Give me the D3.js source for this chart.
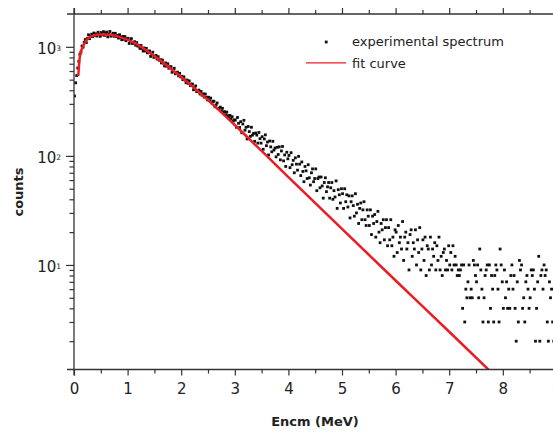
<!DOCTYPE html>
<html lang="en">
<head>
<meta charset="UTF-8">
<title>Encm spectrum</title>
<script src="https://d3js.org/d3.v7.min.js"></script>
<style>
  body { margin: 0; background: #fff; }
  svg text { font-family: "DejaVu Sans", sans-serif; fill: #222; }
</style>
</head>
<body>
<div id="chart"></div>
<script>
// experimental spectrum: counts per bin, bins 0.02 MeV wide, first bin centred at 0.01 MeV
const binStart = 0.01;
const binWidth = 0.02;
const counts = [
  354, 468, 545, 640, 735, 855, 891, 1018, 994, 1097,
  1166, 1093, 1192, 1289, 1188, 1245, 1306, 1241, 1339, 1270,
  1315, 1255, 1362, 1300, 1248, 1352, 1287, 1378, 1274, 1339,
  1365, 1235, 1313, 1384, 1251, 1286, 1332, 1249, 1330, 1246,
  1275, 1203, 1292, 1222, 1162, 1246, 1174, 1244, 1139, 1185,
  1197, 1074, 1132, 1190, 1073, 1088, 1115, 1035, 1093, 1016,
  1031, 966, 1030, 967, 915, 977, 916, 967, 880, 912,
  916, 817, 855, 893, 800, 816, 834, 772, 813, 753,
  762, 712, 757, 709, 668, 711, 665, 700, 636, 656,
  657, 584, 610, 636, 566, 573, 586, 542, 571, 529,
  537, 501, 531, 496, 468, 496, 463, 487, 441, 455,
  455, 404, 421, 438, 389, 393, 401, 370, 390, 360,
  371, 346, 369, 345, 326, 345, 321, 339, 306, 317,
  317, 282, 293, 306, 271, 274, 280, 258, 273, 252,
  254, 238, 252, 234, 222, 235, 219, 229, 208, 214,
  213, 183, 225, 199, 182, 206, 163, 196, 212, 172,
  183, 143, 186, 167, 151, 183, 155, 161, 136, 162,
  155, 131, 164, 144, 131, 150, 115, 143, 156, 124,
  134, 102, 137, 121, 109, 136, 113, 118, 98, 120,
  103, 121, 92, 111, 122, 90, 102, 80, 108, 94,
  101, 78, 107, 83, 91, 70, 96, 84, 74, 99,
  84, 66, 88, 72, 58, 80, 73, 62, 83, 63,
  54, 70, 76, 58, 62, 76, 48, 62, 64, 51,
  64, 53, 41, 57, 63, 47, 52, 57, 41, 51,
  57, 40, 48, 42, 59, 33, 49, 44, 37, 50,
  45, 33, 50, 38, 44, 34, 43, 27, 38, 43,
  35, 28, 45, 30, 36, 24, 33, 37, 26, 32,
  38, 26, 23, 32, 28, 23, 32, 19, 28, 24,
  29, 18, 25, 31, 20, 16, 24, 21, 26, 17,
  22, 26, 15, 22, 17, 26, 15, 18, 12, 21,
  20, 13, 23, 16, 18, 14, 25, 11, 18, 20,
  14, 16, 9, 19, 21, 12, 16, 14, 21, 10,
  17, 13, 22, 9, 14, 17, 11, 18, 8, 15,
  14, 9, 18, 10, 14, 12, 16, 9, 15, 11,
  18, 9, 12, 8, 13, 14, 9, 11, 9, 15,
  10, 13, 9, 15, 10, 12, 10, 8, 9, 8,
  9, 10, 4, 10, 3, 6, 5, 7, 10, 5,
  6, 5, 11, 10, 8, 7, 10, 5, 14, 9,
  6, 3, 5, 8, 9, 10, 3, 10, 4, 8,
  6, 3, 8, 10, 9, 6, 3, 14, 10, 7,
  4, 9, 5, 7, 4, 6, 4, 8, 10, 6,
  8, 4, 2, 7, 3, 11, 9, 10, 4, 5,
  3, 7, 8, 6, 4, 5, 9, 8, 9, 6,
  2, 4, 7, 12, 2, 8, 9, 6, 10, 8,
  9, 3, 2, 7, 5, 6, 3, 2, 7
];

// fit curve
const fitEnergy = [0.08, 0.11, 0.17, 0.24, 0.33, 0.48, 0.67, 0.86, 1.1, 1.5, 2.0, 2.5, 3.0, 3.5, 4.0, 5.0, 6.0, 7.0, 7.8];
const fitCounts = [540, 822, 1014, 1164, 1254, 1300, 1293, 1227, 1104, 822, 528, 325, 192, 111, 64, 21.4, 7.2, 2.44, 1.02];

// ticks
const xMajorTicks = [0, 1, 2, 3, 4, 5, 6, 7, 8, 9, 10];
const xMinorTicks = [0.5, 1.5, 2.5, 3.5, 4.5, 5.5, 6.5, 7.5, 8.5, 9.5];
const yMajorTicks = [10, 100, 1000];
const yExponents = ["1", "2", "3"];
const yMinorTicks = [2, 3, 4, 5, 6, 7, 8, 9, 20, 30, 40, 50, 60, 70, 80, 90, 200, 300, 400, 500, 600, 700, 800, 900];

const legendLabels = ["experimental spectrum", "fit curve"];

const width = 553, height = 432;
const plotLeft = 74, plotTop = 14, plotBottom = 369.5;
const axisColor = "#333";
const red = "#ec1c24";

const x = d3.scaleLinear().domain([0, 10]).range([plotLeft, plotLeft + 536]);
const y = d3.scaleLog().domain([1.1, 2000]).range([plotBottom, plotTop]);

const svg = d3.select("#chart").append("svg")
  .attr("width", width)
  .attr("height", height);

svg.append("defs").append("clipPath").attr("id", "plot")
  .append("rect")
  .attr("x", plotLeft).attr("y", plotTop)
  .attr("width", width - plotLeft).attr("height", plotBottom - plotTop);

// data points
const points = counts.map((c, i) => ({ e: binStart + i * binWidth, c: c }))
  .filter(d => d.c >= 1.1);

const dot = 2.8;
svg.append("g")
  .attr("clip-path", "url(#plot)")
  .selectAll("rect")
  .data(points)
  .join("rect")
  .attr("x", d => x(d.e) - dot / 2)
  .attr("y", d => y(d.c) - dot / 2)
  .attr("width", dot)
  .attr("height", dot)
  .attr("fill", "#111");

// fit curve
const line = d3.line()
  .x(d => x(d[0]))
  .y(d => y(d[1]))
  .curve(d3.curveMonotoneX);

svg.append("path")
  .attr("clip-path", "url(#plot)")
  .datum(fitEnergy.map((e, i) => [e, fitCounts[i]]))
  .attr("d", line)
  .attr("fill", "none")
  .attr("stroke", red)
  .attr("stroke-width", 2.5);

// axes
function styleAxis(g) {
  g.select(".domain").remove();
  g.selectAll("line").attr("stroke", axisColor).attr("stroke-width", 1.2);
  g.attr("font-family", "DejaVu Sans, sans-serif");
}

svg.append("g")
  .attr("transform", `translate(0,${plotBottom})`)
  .call(d3.axisBottom(x).tickValues(xMajorTicks).tickSize(6).tickPadding(8).tickFormat(d3.format("d")))
  .call(styleAxis)
  .attr("font-size", 15)
  .selectAll("text").attr("fill", "#222");

svg.append("g")
  .attr("transform", `translate(0,${plotBottom})`)
  .call(d3.axisBottom(x).tickValues(xMinorTicks).tickSize(4).tickFormat(""))
  .call(styleAxis);

svg.append("g")
  .attr("transform", `translate(0,${plotTop})`)
  .call(d3.axisTop(x).tickValues(xMajorTicks).tickSize(6).tickFormat(""))
  .call(styleAxis);

svg.append("g")
  .attr("transform", `translate(0,${plotTop})`)
  .call(d3.axisTop(x).tickValues(xMinorTicks).tickSize(4).tickFormat(""))
  .call(styleAxis);

svg.append("g")
  .attr("transform", `translate(${plotLeft},0)`)
  .call(d3.axisLeft(y).tickValues(yMajorTicks).tickSize(8).tickFormat(""))
  .call(styleAxis);

svg.append("g")
  .attr("transform", `translate(${plotLeft},0)`)
  .call(d3.axisLeft(y).tickValues(yMinorTicks).tickSize(4.5).tickFormat(""))
  .call(styleAxis);

// axis lines, extended past the corners
svg.append("line")
  .attr("x1", plotLeft - 7).attr("x2", width).attr("y1", plotBottom).attr("y2", plotBottom)
  .attr("stroke", axisColor).attr("stroke-width", 1.3);
svg.append("line")
  .attr("x1", plotLeft - 7).attr("x2", width).attr("y1", plotTop).attr("y2", plotTop)
  .attr("stroke", axisColor).attr("stroke-width", 1.3);
svg.append("line")
  .attr("x1", plotLeft).attr("x2", plotLeft).attr("y1", plotTop - 6).attr("y2", plotBottom + 6)
  .attr("stroke", axisColor).attr("stroke-width", 1.3);

// y labels 10^n
const yLabels = svg.append("g").selectAll("text")
  .data(yMajorTicks)
  .join("text")
  .attr("x", 61)
  .attr("y", d => y(d))
  .attr("dy", "0.49em")
  .attr("text-anchor", "end")
  .attr("font-size", 15);
yLabels.append("tspan").text("10");
yLabels.append("tspan")
  .attr("dy", "-0.42em")
  .attr("font-size", 7.5)
  .text((d, i) => yExponents[i]);

// axis titles
svg.append("text")
  .attr("x", 315)
  .attr("y", 426)
  .attr("text-anchor", "middle")
  .attr("font-size", 13)
  .attr("font-weight", "bold")
  .text("Encm (MeV)");

svg.append("text")
  .attr("transform", "translate(23,192) rotate(-90)")
  .attr("text-anchor", "middle")
  .attr("font-size", 13)
  .attr("font-weight", "bold")
  .text("counts");

// legend
const legend = svg.append("g");
legend.append("rect")
  .attr("x", 324.8).attr("y", 40.6)
  .attr("width", 2.8).attr("height", 2.8)
  .attr("fill", "#111");
legend.append("line")
  .attr("x1", 306).attr("x2", 346).attr("y1", 62.8).attr("y2", 62.8)
  .attr("stroke", red).attr("stroke-width", 1.3);
legend.selectAll("text")
  .data(legendLabels)
  .join("text")
  .attr("x", 352)
  .attr("y", (d, i) => 46 + i * 21.5)
  .attr("font-size", 13)
  .text(d => d);
</script>
</body>
</html>
